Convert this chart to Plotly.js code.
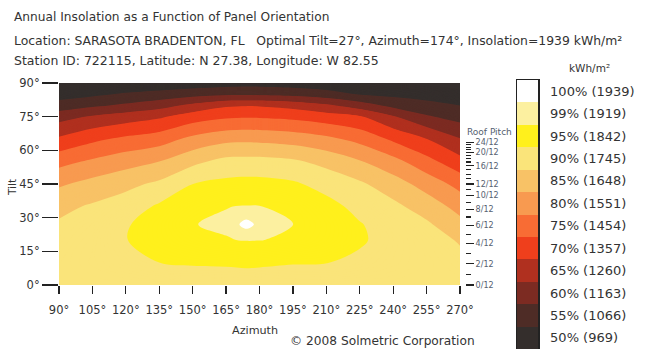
<!DOCTYPE html>
<html><head><meta charset="utf-8">
<script src="https://cdn.plot.ly/plotly-3.0.1.min.js"></script>
<style>html,body{margin:0;padding:0;background:#fff;}#chart{width:647px;height:349px;}</style>
</head><body><div id="chart"></div>
<script>
// ---- data (percent of optimum 1939 kWh/m2) ----
const azimuth = [90,105,120,135,150,165,174,180,195,210,225,240,255,270];
const tilt = [0,10,20,27,35,45,55,65,75,80,85,90];
const row0  = [92,92,92,92,92,92,92,92,92,92,92,92,92,92];
const row10 = [91.7,92.6,93.8,95.0,95.5,95.7,96.0,95.84,95.3,95.1,94.2,93.2,92.2,91.2];
const row20 = [91.1,92.4,94.9,96.5,97.9,98.9,99.1,99.07,98.6,97.3,95.5,93.5,91.8,89.6];
const row27 = [90.6,91.8,94.7,96.6,98.95,99.25,100,99.57,99.05,97.5,95.3,92.8,90.8,86.5];
const row35 = [88.7,90.6,92.5,95.7,97.8,98.95,99.1,99.06,98.5,96.6,93.6,91.2,87.7,83.3];
const row45 = [84.3,86.6,88.7,91.0,94.97,96.3,96.6,96.5,95.7,93.3,90.8,87.3,83.0,78.3];
const row55 = [78.4,80.8,83.0,85.0,88.8,91.5,91.7,91.67,90.8,88.5,85.4,81.7,76.7,71.7];
const row65 = [70.8,73.9,76.1,77.7,81.3,83.6,83.9,83.73,82.9,81.2,78.5,74.1,70.1,65.3];
const row75 = [63.1,65.6,67.5,69.3,72.5,74.2,74.6,74.44,73.75,72.3,70.5,65.5,60.6,58.1];
const row80 = [56.9,59.1,60.9,63.0,66.3,69.3,69.7,69.55,68.3,65.9,62.5,58.6,56.5,55.0];
const row85 = [52.9,54.0,55.6,56.8,58.1,59.0,59.2,59.11,58.5,57.1,54.7,53.8,53.1,51.5];
const row90 = [50,50.5,51,51.5,52,52.8,53.1,53,52.5,51.5,50,49.5,49,48];
const insolationPct = [row0,row10,row20,row27,row35,row45,row55,row65,row75,row80,row85,row90];

const bandLabels = ['100% (1939)','99% (1919)','95% (1842)','90% (1745)','85% (1648)','80% (1551)',
                    '75% (1454)','70% (1357)','65% (1260)','60% (1163)','55% (1066)','50% (969)'];
const bandLower  = [99.75, 99, 95, 90, 85, 80, 75, 70, 65, 60, 55, 50];
const bandColors = ['#ffffff','#fcf0a0','#fff01c','#fae47a','#f8c266','#f89a50',
                    '#f86c34','#ef3f1c','#b0301f','#7c2b22','#4e2c26','#342e2c'];

const azTicks = [90,105,120,135,150,165,180,195,210,225,240,255,270];
const tiltTicks = [0,15,30,45,60,75,90];
const pitchRise = [0,2,4,6,8,10,12,16,20,24];
const pitchMinorRise = [1,3,5,7,9,11,13,14,15,17,18,19,21,22,23];

// ---- styling helpers ----
const W = 647, H = 349;
const px = v => v / W, py = v => 1 - v / H;
const FONT = 'DejaVu Sans';
const TXT = '#333333';

// contour colour scale (plotly fill: band [L,L+cs] coloured at L+cs/2)
const cStart = 50, cEnd = 100, cSize = 0.25;
const nc = Math.floor((cEnd - cStart) / cSize) + 1;
const toFrac = v => ((v - cStart) / cSize + 0.5) / nc;
const asc = bandLower.slice().reverse();
const ascCol = bandColors.slice().reverse();
const contourScale = [[0, ascCol[0]]];
for (let i = 1; i < asc.length; i++) {
  const f = toFrac(asc[i]);
  contourScale.push([f, ascCol[i - 1]]);
  contourScale.push([f, ascCol[i]]);
}
contourScale.push([1, ascCol[ascCol.length - 1]]);

// legend bar scale (discrete by band index)
const nB = bandLabels.length;
const legendScale = [];
bandColors.forEach((c, i) => { legendScale.push([i / nB, c]); legendScale.push([(i + 1) / nB, c]); });

const deg = r => Math.atan(r / 12) * 180 / Math.PI;

const traces = [
  {
    type: 'contour', x: azimuth, y: tilt, z: insolationPct,
    xaxis: 'x', yaxis: 'y',
    contours: {coloring: 'fill', start: cStart, end: cEnd, size: cSize, showlines: false},
    line: {width: 0, smoothing: 1},
    colorscale: contourScale, showscale: false, hoverinfo: 'skip'
  },
  { type: 'scatter', x: [], y: [], xaxis: 'x', yaxis: 'y2', showlegend: false, hoverinfo: 'skip' },
  {
    type: 'heatmap', x: ['bar'], y: bandLabels, z: bandLabels.map((_, i) => [i]),
    xaxis: 'x3', yaxis: 'y3', colorscale: legendScale, zmin: -0.5, zmax: nB - 0.5,
    showscale: false, hoverinfo: 'skip'
  }
];

const layout = {
  width: W, height: H,
  margin: {l: 0, r: 0, t: 0, b: 0, pad: 0},
  paper_bgcolor: '#ffffff', plot_bgcolor: '#ffffff',
  showlegend: false,
  font: {family: FONT, color: TXT, size: 11},
  xaxis: {
    domain: [px(59), px(460)], range: [90, 270], anchor: 'y',
    tickvals: azTicks, ticktext: azTicks.map(a => a + '°'),
    ticks: 'outside', ticklen: 8, tickwidth: 1.2, tickcolor: '#222',
    ticklabelstandoff: 6,
    tickfont: {family: FONT, size: 11.5, color: TXT},
    showgrid: false, zeroline: false, showline: false
  },
  yaxis: {
    domain: [1 - 285 / H, 1 - 83 / H], range: [0, 90], anchor: 'x',
    tickvals: tiltTicks, ticktext: tiltTicks.map(t => t + '°'),
    ticks: 'outside', ticklen: 16, tickwidth: 1.2, tickcolor: '#222',
    tickfont: {family: FONT, size: 11.5, color: TXT},
    showgrid: false, zeroline: false, showline: false
  },
  yaxis2: {
    overlaying: 'y', side: 'right', anchor: 'free', position: px(465),
    range: [0, 90],
    tickvals: pitchRise.map(deg), ticktext: pitchRise.map(r => r + '/12'),
    ticks: 'outside', ticklen: 8, tickwidth: 1.2, tickcolor: '#222',
    minor: {tickvals: pitchMinorRise.map(deg), ticks: 'outside', ticklen: 5, tickwidth: 1.2, tickcolor: '#222', showgrid: false},
    tickfont: {family: FONT, size: 8, color: '#556070'},
    showgrid: false, zeroline: false, showline: false
  },
  xaxis3: {
    domain: [px(517), px(538)], anchor: 'y3', range: [-0.5, 0.5],
    showticklabels: false, ticks: '', showgrid: false, zeroline: false,
    showline: true, mirror: true, linecolor: '#222', linewidth: 1.5
  },
  yaxis3: {
    domain: [0, 1 - 80 / H], anchor: 'x3', type: 'category', autorange: 'reversed',
    side: 'right', ticks: '', ticklabelstandoff: 8,
    tickfont: {family: FONT, size: 13, color: TXT},
    showgrid: false, zeroline: false,
    showline: true, mirror: true, linecolor: '#222', linewidth: 1.5
  },
  annotations: [
    {text: 'Annual Insolation as a Function of Panel Orientation', x: px(12), y: py(17), xanchor: 'left', yanchor: 'middle', size: 12.2},
    {text: 'Location: SARASOTA BRADENTON, FL\u00a0\u00a0\u00a0Optimal Tilt=27°, Azimuth=174°, Insolation=1939 kWh/m²', x: px(12), y: py(40), xanchor: 'left', yanchor: 'middle', size: 12.4},
    {text: 'Station ID: 722115, Latitude: N 27.38, Longitude: W 82.55', x: px(12), y: py(61), xanchor: 'left', yanchor: 'middle', size: 12.5},
    {text: 'kWh/m²', x: px(589), y: py(68), xanchor: 'center', yanchor: 'middle', size: 10.5},
    {text: 'Roof Pitch', x: px(489), y: py(132), xanchor: 'center', yanchor: 'middle', size: 9, color: '#556070'},
    {text: 'Tilt', x: px(12), y: py(188), xanchor: 'center', yanchor: 'middle', size: 10.5, textangle: -90},
    {text: 'Azimuth', x: px(255), y: py(330), xanchor: 'center', yanchor: 'middle', size: 11.2},
    {text: '© 2008 Solmetric Corporation', x: px(382), y: py(341), xanchor: 'center', yanchor: 'middle', size: 12.2}
  ].map(a => ({
    text: a.text, x: a.x, y: a.y, xref: 'paper', yref: 'paper',
    xanchor: a.xanchor, yanchor: a.yanchor, showarrow: false, textangle: a.textangle || 0,
    font: {family: FONT, size: a.size, color: a.color || TXT}
  }))
};

Plotly.newPlot('chart', traces, layout, {displayModeBar: false, staticPlot: true});
</script>
</body></html>
